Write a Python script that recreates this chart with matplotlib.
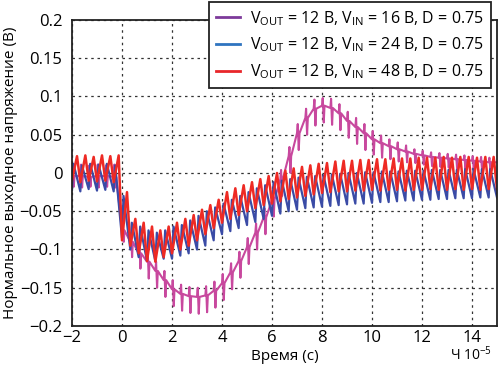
import matplotlib
matplotlib.use("Agg")
import matplotlib.pyplot as plt
from matplotlib.lines import Line2D
import numpy as np

plt.rcParams["font.family"] = ["Open Sans", "DejaVu Sans"]
plt.rcParams["mathtext.fontset"] = "custom"
plt.rcParams["mathtext.rm"] = "Open Sans"
plt.rcParams["mathtext.it"] = "Open Sans"

# ripple cycle start times, units of 1e-5 s
cycle_start = np.arange(-2.0, 15.0, 1.0 / 3.0)[:51]

# Vin = 48 V (red): low / high of each ripple cycle
red_lo = [-0.010, -0.012, -0.010, -0.011, -0.010, -0.012,
          -0.088, -0.095, -0.105, -0.115, -0.116, -0.110, -0.105, -0.100, -0.095,
          -0.088, -0.080, -0.072, -0.065, -0.060, -0.055, -0.050, -0.046, -0.042,
          -0.040, -0.037, -0.034, -0.032, -0.030, -0.028, -0.026, -0.025, -0.024,
          -0.024, -0.023, -0.023, -0.022, -0.023, -0.022, -0.022, -0.023, -0.022,
          -0.022, -0.021, -0.022, -0.022, -0.021, -0.022, -0.021, -0.022, -0.021]
red_hi = [0.022, 0.023, 0.021, 0.023, 0.022, 0.023,
          -0.025, -0.060, -0.065, -0.070, -0.075, -0.070, -0.065, -0.060, -0.055,
          -0.048, -0.042, -0.035, -0.025, -0.020, -0.016, -0.012, -0.008, -0.004,
          0.000, 0.003, 0.006, 0.008, 0.010, 0.012, 0.013, 0.015, 0.016,
          0.016, 0.017, 0.017, 0.018, 0.018, 0.019, 0.019, 0.019, 0.020,
          0.020, 0.020, 0.021, 0.020, 0.021, 0.021, 0.020, 0.021, 0.021]

# Vin = 24 V (blue)
blue_lo = [-0.022, -0.024, -0.021, -0.023, -0.022, -0.024,
           -0.085, -0.100, -0.110, -0.115, -0.115, -0.112, -0.112, -0.108, -0.105,
           -0.100, -0.095, -0.088, -0.080, -0.076, -0.072, -0.068, -0.064, -0.060,
           -0.056, -0.053, -0.050, -0.048, -0.046, -0.045, -0.044, -0.043, -0.042,
           -0.041, -0.040, -0.040, -0.039, -0.038, -0.038, -0.037, -0.036, -0.036,
           -0.035, -0.035, -0.034, -0.034, -0.033, -0.033, -0.033, -0.032, -0.032]
blue_hi = [0.012, 0.010, 0.012, 0.011, 0.012, 0.010,
           -0.030, -0.065, -0.070, -0.075, -0.078, -0.075, -0.070, -0.068, -0.062,
           -0.056, -0.050, -0.045, -0.040, -0.035, -0.030, -0.025, -0.020, -0.016,
           -0.012, -0.010, -0.008, -0.006, -0.005, -0.004, -0.003, -0.002, -0.001,
           0.000, 0.000, 0.001, 0.001, 0.002, 0.002, 0.002, 0.003, 0.003,
           0.003, 0.004, 0.004, 0.004, 0.004, 0.005, 0.005, 0.005, 0.005]

# Vin = 16 V (magenta): base level plus spike top / bottom per cycle
mag_base = [-0.004, -0.004, -0.005, -0.004, -0.004, -0.005,
            -0.075, -0.090, -0.105, -0.116, -0.128, -0.140, -0.152, -0.158, -0.161,
            -0.162, -0.160, -0.154, -0.144, -0.130, -0.115, -0.097, -0.078, -0.058,
            -0.035, -0.008, 0.022, 0.052, 0.072, 0.084, 0.088, 0.085, 0.078,
            0.068, 0.060, 0.052, 0.044, 0.039, 0.035, 0.031, 0.028, 0.025,
            0.023, 0.021, 0.020, 0.019, 0.018, 0.017, 0.016, 0.015, 0.014]
mag_top = [0.010, 0.011, 0.010, 0.011, 0.010, 0.011,
           -0.060, -0.078, -0.093, -0.104, -0.116, -0.128, -0.140, -0.146, -0.149,
           -0.150, -0.148, -0.142, -0.132, -0.118, -0.103, -0.085, -0.066, -0.046,
           -0.023, 0.004, 0.034, 0.064, 0.084, 0.096, 0.098, 0.097, 0.090,
           0.080, 0.072, 0.064, 0.055, 0.049, 0.044, 0.040, 0.036, 0.031,
           0.029, 0.027, 0.026, 0.025, 0.024, 0.023, 0.022, 0.021, 0.020]
mag_bottom = [-0.018, -0.019, -0.018, -0.019, -0.018, -0.019,
              -0.090, -0.110, -0.125, -0.138, -0.150, -0.162, -0.174, -0.180, -0.183,
              -0.184, -0.182, -0.176, -0.166, -0.152, -0.137, -0.119, -0.100, -0.080,
              -0.057, -0.030, 0.000, 0.030, 0.050, 0.062, 0.066, 0.063, 0.056,
              0.046, 0.038, 0.030, 0.024, 0.020, 0.018, 0.015, 0.014, 0.013,
              0.011, 0.009, 0.008, 0.007, 0.006, 0.005, 0.004, 0.003, 0.002]

labels = [r"V$_{\mathrm{OUT}}$ = 12 В, V$_{\mathrm{IN}}$ = 16 В, D = 0.75",
          r"V$_{\mathrm{OUT}}$ = 12 В, V$_{\mathrm{IN}}$ = 24 В, D = 0.75",
          r"V$_{\mathrm{OUT}}$ = 12 В, V$_{\mathrm{IN}}$ = 48 В, D = 0.75"]


def sawtooth(lo, hi, rise):
    """Lay the low/high pairs out on the time axis."""
    t, y = [], []
    for t0, a, b in zip(cycle_start, lo, hi):
        t += [t0, t0 + rise]
        y += [a, b]
    t.append(15.0)
    y.append(lo[-1])
    return t, y


def spiky(base, top, bottom):
    t, y = [], []
    for t0, b, hi, lo in zip(cycle_start, base, top, bottom):
        t += [t0, t0 + 0.03, t0 + 0.07, t0 + 0.1]
        y += [b, hi, lo, b]
    t.append(15.0)
    y.append(base[-1])
    return t, y


fig = plt.figure(figsize=(4.99, 3.73), dpi=100)
ax = fig.add_axes([0.1443, 0.126, 0.8517, 0.8204])

tm, ym = spiky(mag_base, mag_top, mag_bottom)
tb, yb = sawtooth(blue_lo, blue_hi, 0.06)
tr, yr = sawtooth(red_lo, red_hi, 0.2)
ax.plot(tm, ym, color="#c8489e", lw=1.5)
ax.plot(tb, yb, color="#3a4ba6", lw=1.6)
ax.plot(tr, yr, color="#ee2a24", lw=1.8)

ax.set_xlim(-2, 15)
ax.set_ylim(-0.2, 0.2)
ax.set_xticks([-2, 0, 2, 4, 6, 8, 10, 12, 14])
ax.set_xticklabels(["\u22122", "0", "2", "4", "6", "8", "10", "12", "14"])
ax.set_yticks([-0.2, -0.15, -0.1, -0.05, 0, 0.05, 0.1, 0.15, 0.2])
ax.set_yticklabels(["\u22120.2", "\u22120.15", "\u22120.1", "\u22120.05", "0",
                    "0.05", "0.1", "0.15", "0.2"])
ax.tick_params(length=0, labelsize=12)
ax.tick_params(axis="y", pad=7)
ax.tick_params(axis="x", pad=3)
ax.grid(True, color="#333333", linestyle=(0, (2, 3)), linewidth=0.9)
for sp in ax.spines.values():
    sp.set_linewidth(1.3)
    sp.set_color("#222222")

ax.set_xlabel("Время (с)", fontsize=11, labelpad=2)
ax.set_ylabel("Нормальное выходное напряжение (В)", fontsize=11)
ax.yaxis.set_label_coords(-0.127, 0.5)
fig.text(0.943, 0.035, "Ч 10$^{-5}$", fontsize=10, ha="center", va="baseline")

handles = [Line2D([], [], color="#7d3a9a", lw=2),
           Line2D([], [], color="#2f74c0", lw=2),
           Line2D([], [], color="#e8262a", lw=2)]
leg = fig.legend(handles, labels, loc="upper right",
                 bbox_to_anchor=(0.983, 0.995), fontsize=11.5, frameon=True,
                 fancybox=False, framealpha=1, edgecolor="#222222",
                 handlelength=1.5, handletextpad=0.6, borderpad=0.45,
                 labelspacing=0.5, borderaxespad=0)
leg.get_frame().set_linewidth(1.3)

fig.savefig("out.png", dpi=100)
